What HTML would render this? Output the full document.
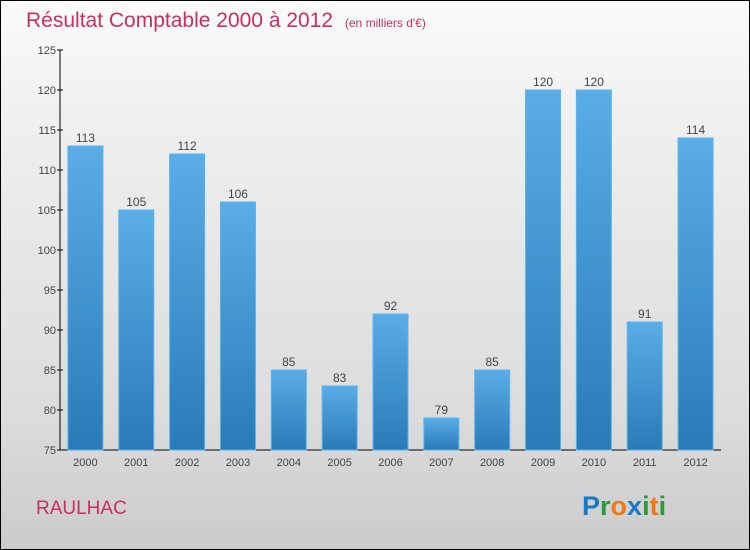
<!DOCTYPE html>
<html><head><meta charset="utf-8"><style>
body{margin:0;}
#wrap{position:relative;width:748px;height:548px;border:1px solid #000;background:linear-gradient(#fbfbfb,#f0f0f0 20%,#dcdcdc 75%,#cbcbcb);font-family:"Liberation Sans",sans-serif;overflow:hidden}
</style></head><body>
<div id="wrap">
<svg id="chart" width="748" height="548" viewBox="1 1 748 548" xmlns="http://www.w3.org/2000/svg">
<defs>
<linearGradient id="bg" x1="0" y1="0" x2="0" y2="1"><stop offset="0" stop-color="#5aade6"/><stop offset="1" stop-color="#2a7ab8"/></linearGradient>
</defs>
<text x="26" y="27" font-size="21" fill="#c8305e">Résultat Comptable 2000 à 2012 <tspan font-size="12" dx="6">(en milliers d'€)</tspan></text>
<g id="axes"></g><g id="bars"></g>
<text x="36" y="514" font-size="19" fill="#c8305e">RAULHAC</text>
<text x="582" y="515" font-size="27" font-weight="bold"><tspan fill="#1a78c8">P</tspan><tspan fill="#2a9a3a">r</tspan><tspan fill="#f07a10">o</tspan><tspan fill="#1a78c8">x</tspan><tspan fill="#2a9a3a">i</tspan><tspan fill="#f07a10">t</tspan><tspan fill="#2a9a3a">i</tspan></text>
</svg></div>
<script>
const years=["2000","2001","2002","2003","2004","2005","2006","2007","2008","2009","2010","2011","2012"];
const values=[113,105,112,106,85,83,92,79,85,120,120,91,114];
const ticks=[75,80,85,90,95,100,105,110,115,120,125];
const NS="http://www.w3.org/2000/svg";
const x0=60,x1=721,y0=450,y1=50,vmin=75,vmax=125;
const band=(x1-x0)/years.length;
const y=v=>y0-(v-vmin)/(vmax-vmin)*(y0-y1);
const xc=i=>x0+band*(i+0.5);
function mk(t,a,p){const e=document.createElementNS(NS,t);for(const k in a)e.setAttribute(k,a[k]);p.appendChild(e);return e;}
const ax=document.getElementById('axes'),bg=document.getElementById('bars');
const yl=mk('line',{x1:x0,x2:x0,y1:y1,y2:y0,stroke:'#000'},ax);


const xl=mk('line',{x1:x0,x2:x1,y1:y0,y2:y0,stroke:'#000'},ax);


ticks.forEach(t=>{
 mk('line',{x1:x0-3,x2:x0+3,y1:y(t),y2:y(t),stroke:'#000'},ax);
 const tx=mk('text',{x:x0-4,y:y(t)+4,'font-size':11,'text-anchor':'end',fill:'#444'},ax);
 tx.textContent=t;
 
 
});
years.forEach((yr,i)=>{
 const w=35,v=values[i];
 const r=mk('rect',{x:xc(i)-w/2,y:y(v),width:w,height:y0-y(v),fill:'url(#bg)',stroke:'#5ab4ec','stroke-width':1},bg);
 
 
 const lb=mk('text',{x:xc(i),y:y(v)-4,'font-size':12,'text-anchor':'middle',fill:'#444'},bg);
 lb.textContent=v;
 
 
 const xt=mk('text',{x:xc(i),y:y0+16,'font-size':11,'text-anchor':'middle',fill:'#444'},ax);
 xt.textContent=yr;
 
 
});
</script>
</body></html>
